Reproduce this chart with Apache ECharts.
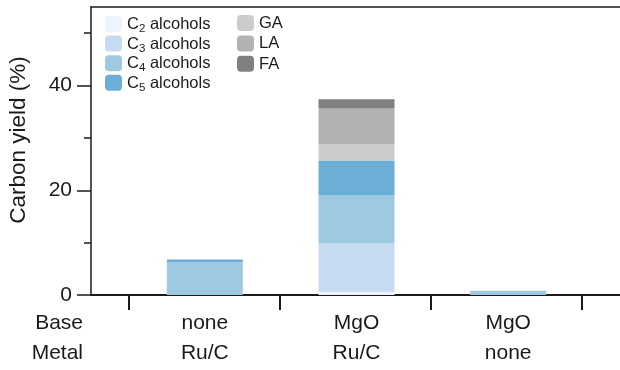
<!DOCTYPE html>
<html>
<head>
<meta charset="utf-8">
<script src="https://cdn.jsdelivr.net/npm/echarts@6/dist/echarts.min.js"></script>
<style>
  html, body { margin: 0; padding: 0; background: #fff; }
  #chart { width: 620px; height: 370px; }
</style>
</head>
<body>
<div id="chart"></div>
<script>
// Reaction conditions for each run
const baseLabels = ['none', 'MgO', 'MgO'];
const metalLabels = ['Ru/C', 'Ru/C', 'none'];

// Carbon yield (%) per product group
const c2Alcohols = [0, 0.6, 0];
const c3Alcohols = [0, 9.3, 0];
const c4Alcohols = [6.3, 9.1, 0.8];
const c5Alcohols = [0.5, 6.7, 0];
const gaYield = [0, 3.1, 0];
const laYield = [0, 6.8, 0];
const faYield = [0, 1.8, 0];

const yTicks = [0, 20, 40];
const yMinorTicks = [10, 30, 50];
const yMax = 55;

const seriesDefs = [
  { name: 'C2 alcohols', values: c2Alcohols, color: '#eff3ff', legend: 0 },
  { name: 'C3 alcohols', values: c3Alcohols, color: '#c6dbef', legend: 0 },
  { name: 'C4 alcohols', values: c4Alcohols, color: '#9ecae1', legend: 0 },
  { name: 'C5 alcohols', values: c5Alcohols, color: '#6baed6', legend: 0 },
  { name: 'GA', values: gaYield, color: '#cccccc', legend: 1 },
  { name: 'LA', values: laYield, color: '#b2b2b2', legend: 1 },
  { name: 'FA', values: faYield, color: '#808080', legend: 1 }
];

const FONT = '"Liberation Sans", Arial, Helvetica, sans-serif';
const INK = '#1a1a1a';
const AXIS_FS = 21;
const TITLE_FS = 22.5;
const LEGEND_FS = 16.5;

const richLegend = {
  b: { fontSize: LEGEND_FS, fontFamily: FONT, color: INK, lineHeight: 16, verticalAlign: 'top' },
  s: { fontSize: 11.5, fontFamily: FONT, color: INK, lineHeight: 11, padding: [7, 0, 0, 0], verticalAlign: 'top' }
};
function legendText(name) {
  const m = /^C(\d) (.*)$/.exec(name);
  if (m) return '{b|C}{s|' + m[1] + '}{b| ' + m[2] + '}';
  return '{b|' + name + '}';
}

// Frame grid spans a little beyond the three runs on each side
const xMin = 0.25, xMax = 3.75;
const PLOT_TOP = 7, PLOT_BOTTOM = 75;

const chart = echarts.init(document.getElementById('chart'), null, { renderer: 'canvas' });

const legendCommon = {
  orient: 'vertical',
  itemWidth: 17,
  itemHeight: 16,
  icon: 'roundRect',
  selectedMode: false,
  formatter: legendText,
  textStyle: { rich: richLegend, fontFamily: FONT, fontSize: LEGEND_FS, color: INK }
};

chart.setOption({
  animation: false,
  backgroundColor: '#fff',
  textStyle: { fontFamily: FONT },
  grid: [
    { left: 91, right: -2, top: PLOT_TOP, bottom: PLOT_BOTTOM },
    // bar grid: one band per run, between the outer separator ticks
    { left: 129, right: 36, top: PLOT_TOP, bottom: PLOT_BOTTOM }
  ],
  legend: [
    Object.assign({}, legendCommon, { left: 100, top: 11, itemGap: 0.6, data: seriesDefs.filter(d => d.legend === 0).map(d => d.name) }),
    Object.assign({}, legendCommon, { left: 232, top: 10, itemGap: 3.4, data: seriesDefs.filter(d => d.legend === 1).map(d => d.name) })
  ],
  xAxis: [
    {
      gridIndex: 0, type: 'value', min: xMin, max: xMax, position: 'bottom',
      splitLine: { show: false },
      axisLine: { show: true, onZero: false, lineStyle: { color: INK, width: 2 } },
      axisTick: { show: true, customValues: [0.5, 1.5, 2.5, 3.5], length: 15, lineStyle: { color: INK, width: 2 } },
      axisLabel: {
        customValues: [xMin], margin: 13, align: 'right', padding: [0, 8, 0, 0],
        fontSize: AXIS_FS, color: INK, fontFamily: FONT, lineHeight: 30,
        formatter: () => 'Base\nMetal'
      }
    },
    {
      // top frame line
      gridIndex: 0, type: 'value', min: xMin, max: xMax, position: 'top',
      splitLine: { show: false },
      axisLine: { show: true, onZero: false, lineStyle: { color: INK, width: 1.5 } },
      axisTick: { show: false }, axisLabel: { show: false }
    },
    {
      gridIndex: 1, type: 'category', position: 'bottom',
      data: baseLabels.map((b, i) => b + '\n' + metalLabels[i]),
      axisLine: { show: false }, axisTick: { show: false },
      axisLabel: { margin: 13, fontSize: AXIS_FS, color: INK, fontFamily: FONT, lineHeight: 30, interval: 0 }
    }
  ],
  yAxis: [
    {
      gridIndex: 0, type: 'value', min: 0, max: yMax,
      splitLine: { show: false },
      axisLine: { show: true, onZero: false, lineStyle: { color: INK, width: 1.5 } },
      axisTick: { show: true, customValues: yTicks, length: 14, lineStyle: { color: INK, width: 1.5 } },
      axisLabel: { customValues: yTicks, margin: 19, fontSize: AXIS_FS, color: INK, fontFamily: FONT }
    },
    {
      gridIndex: 0, type: 'value', min: 0, max: yMax, position: 'left',
      splitLine: { show: false }, axisLine: { show: false },
      axisTick: { show: true, customValues: yMinorTicks, length: 7, lineStyle: { color: INK, width: 1.5 } },
      axisLabel: { show: false }
    },
    {
      gridIndex: 1, type: 'value', min: 0, max: yMax, show: false
    }
  ],
  graphic: [
    {
      type: 'text', x: 19, y: 140, rotation: Math.PI / 2,
      style: {
        text: 'Carbon yield (%)', fontSize: TITLE_FS, fontFamily: FONT, fill: INK,
        align: 'center', verticalAlign: 'middle'
      }
    }
  ],
  series: seriesDefs.map(d => ({
    name: d.name,
    type: 'bar',
    stack: 'yield',
    xAxisIndex: 2,
    yAxisIndex: 2,
    barWidth: 76,
    itemStyle: { color: d.color },
    data: d.values
  }))
});
</script>
</body>
</html>
